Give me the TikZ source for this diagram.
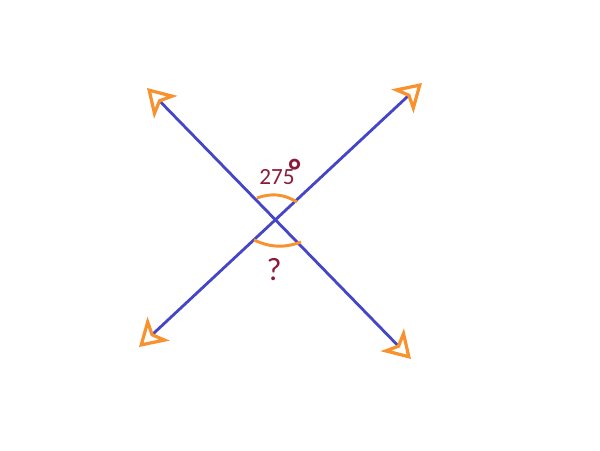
\documentclass[tikz,border=0pt]{standalone}
\usepackage{fontspec}
\setmainfont{Carlito}
\usetikzlibrary{arrows.meta}
\definecolor{lineblue}{HTML}{4545C8}
\definecolor{tiporange}{HTML}{F7922E}
\definecolor{labelred}{HTML}{8A1C3A}
\tikzset{
  opentip/.tip={Stealth[open,tiporange,length=19pt,width=23pt,inset=5pt,line width=2.3pt]},
  ray/.style={lineblue,line width=2pt,opentip-opentip},
  anglearc/.style={tiporange,line width=2.1pt},
  anglelabel/.style={labelred,inner sep=0pt}
}
\begin{document}
\begin{tikzpicture}[x=0.025cm,y=-0.025cm]
  \useasboundingbox (0,0) rectangle (600,450);
  % lines
  \coordinate (NW) at (147,88);
  \coordinate (SE) at (411,359);
  \coordinate (SW) at (139,347);
  \coordinate (NE) at (422,83);
  \draw [ray] (NW) -- (SE);
  \draw [ray] (SW) -- (NE);
  % angles
  \coordinate (top1) at (257,198);
  \coordinate (top2) at (297,202);
  \coordinate (bot1) at (254,240);
  \coordinate (bot2) at (301,242);
  \draw [anglearc] (top1) to[bend left=25] (top2);
  \draw [anglearc] (bot1) to[bend right=22] (bot2);
  \node [anglelabel,font=\fontsize{16.5}{16.5}\selectfont] (known) at (277,177) {275\rlap{\smash{\kern-.25em\raisebox{.09em}{\fontsize{24}{24}\selectfont\textbf{°}}}}};
  \node [anglelabel,font=\fontsize{23}{23}\selectfont] (unknown) at (274,270) {?};
\end{tikzpicture}
\end{document}
